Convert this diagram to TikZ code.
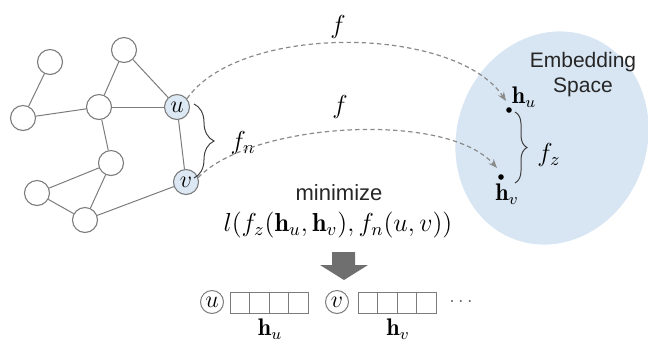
\RequirePackage{fix-cm}
\documentclass[tikz,border=0pt]{standalone}
\usepackage{fontspec}
\newfontfamily\sansf{Liberation Sans}
\usetikzlibrary{arrows.meta,decorations.pathreplacing}
\definecolor{ellblue}{HTML}{D8E6F3}
\definecolor{nodeblue}{HTML}{DCE9F5}
\definecolor{linegray}{HTML}{7C7C7C}
\definecolor{arrowgray}{HTML}{6F6F6F}
\definecolor{dashgray}{HTML}{8A8A8A}
\tikzset{
  gnode/.style={circle, draw=linegray, line width=0.55pt, minimum size=12.5pt, inner sep=0pt, fill=white, font=\fontsize{12}{14}\selectfont},
  hnode/.style={gnode, fill=nodeblue},
  snode/.style={circle, draw=linegray, line width=0.5pt, minimum size=11.5pt, inner sep=0pt, font=\fontsize{12}{14}\selectfont},
  edge/.style={draw=linegray, line width=0.5pt},
  dasharrow/.style={draw=dashgray, dashed, dash pattern=on 2.2pt off 1.6pt, line width=0.6pt, -{Stealth[length=4.5pt,width=3.5pt]}},
  cell/.style={rectangle, draw=linegray, line width=0.5pt, minimum width=9.75pt, minimum height=10.5pt, inner sep=0pt},
  dotn/.style={circle, fill=black, inner sep=0pt, minimum size=2.8pt},
  bracen/.style={draw=black!75, line width=0.5pt, decorate, decoration={brace, amplitude=#1}},
  mlabel/.style={inner sep=0pt, font=\fontsize{13}{15}\selectfont},
  hlabel/.style={inner sep=0pt, font=\fontsize{12}{14}\selectfont},
  stext/.style={inner sep=0pt, font=\sansf\fontsize{10.5}{12.5}\selectfont, text=black!85, align=center},
}
\begin{document}
\begin{tikzpicture}[x=0.5pt,y=-0.5pt]
\useasboundingbox (0,0) rectangle (648,345);
% embedding space
\fill[ellblue, rotate around={-20:(552,138)}] (552,138) ellipse [x radius=95, y radius=108];
\node[stext] (emb) at (583,75) {Embedding\\Space};
% graph nodes
\node[gnode] (a) at (50,62) {};
\node[gnode] (b) at (124,50) {};
\node[gnode] (c) at (23,118) {};
\node[gnode] (d) at (99,107) {};
\node[hnode] (u) at (177,107) {$u$};
\node[gnode] (e) at (111,163) {};
\node[hnode] (v) at (186,182) {$v$};
\node[gnode] (f) at (37,193) {};
\node[gnode] (g) at (85,220) {};
\draw[edge] (a) -- (c);
\draw[edge] (c) -- (d);
\draw[edge] (d) -- (b);
\draw[edge] (b) -- (u);
\draw[edge] (d) -- (u);
\draw[edge] (d) -- (e);
\draw[edge] (u) -- (v);
\draw[edge] (e) -- (f);
\draw[edge] (e) -- (g);
\draw[edge] (f) -- (g);
\draw[edge] (g) -- (v);
% brace f_n
\coordinate (fn1) at (194,104);
\coordinate (fn2) at (194,178);
\draw[bracen=10pt] (fn1) -- (fn2);
\node[mlabel] (fnl) at (243,143) {$f_n$};
% embedding points
\node[dotn] (hu) at (509,110) {};
\node[dotn] (hv) at (501,177) {};
\node[hlabel] (hul) at (524,97) {$\mathbf{h}_u$};
\node[hlabel] (hvl) at (507,194) {$\mathbf{h}_v$};
\coordinate (fz1) at (515,112);
\coordinate (fz2) at (515,183);
\draw[bracen=6pt] (fz1) -- (fz2);
\node[mlabel] (fzl) at (549,155) {$f_z$};
% mapping arrows
\coordinate (hutip) at (506,101);
\coordinate (hvtip) at (497,168);
\draw[dasharrow] (u.40) .. controls (240,23) and (455,25) .. (hutip);
\draw[dasharrow] (v.20) .. controls (250,123) and (445,110) .. (hvtip);
\node[mlabel] (f1) at (338,27) {$f$};
\node[mlabel] (f2) at (340,107) {$f$};
% objective
\node[stext, font=\sansf\fontsize{11}{13}\selectfont] (mini) at (339,193) {minimize};
\node[mlabel] (obj) at (338,225) {$l(f_z(\mathbf{h}_u,\mathbf{h}_v),f_n(u,v))$};
% down arrow
\fill[arrowgray] (332,252) -- (355,252) -- (355,265) -- (368,265) -- (344,280) -- (320,265) -- (332,265) -- cycle;
% bottom row
\node[snode] (bu) at (212,302) {$u$};
\node[cell] (u1) at (239.75,302.5) {};
\node[cell] (u2) at (259.25,302.5) {};
\node[cell] (u3) at (278.75,302.5) {};
\node[cell] (u4) at (298.25,302.5) {};
\node[snode] (bv) at (337,302) {$v$};
\node[cell] (v1) at (367.75,302.5) {};
\node[cell] (v2) at (387.25,302.5) {};
\node[cell] (v3) at (406.75,302.5) {};
\node[cell] (v4) at (426.25,302.5) {};
\node[inner sep=0pt, text=black!60] (dots) at (461,302) {$\cdots$};
\node[hlabel] (hub) at (270,329) {$\mathbf{h}_u$};
\node[hlabel] (hvb) at (398,329) {$\mathbf{h}_v$};
\end{tikzpicture}
\end{document}
